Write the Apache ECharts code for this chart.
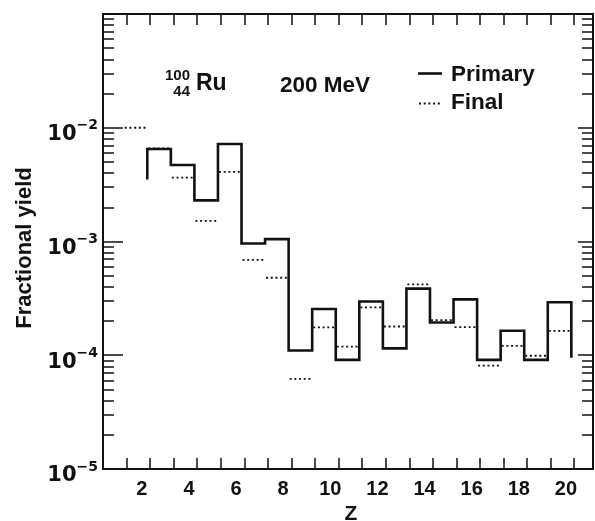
<!DOCTYPE html>
<html>
<head>
<meta charset="utf-8">
<script src="https://cdn.jsdelivr.net/npm/echarts@6/dist/echarts.min.js"></script>
<style>
  html, body { margin: 0; padding: 0; background: #fff; }
  #chart { width: 595px; height: 521px; }
</style>
</head>
<body>
<div id="chart"></div>
<script>
// Fragment charge number Z
const zNumbers = [2, 3, 4, 5, 6, 7, 8, 9, 10, 11, 12, 13, 14, 15, 16, 17, 18, 19, 20];
// Primary (pre-evaporation) fractional yields; no primary entry for Z = 2
const primaryYield = [null, 6.5e-3, 4.7e-3, 2.3e-3, 7.2e-3, 9.6e-4, 1.05e-3, 1.1e-4, 2.55e-4, 9.1e-5,
  2.97e-4, 1.15e-4, 3.85e-4, 1.94e-4, 3.1e-4, 9.1e-5, 1.64e-4, 9.1e-5, 2.92e-4];
// Final fractional yields
const finalYield = [1.0e-2, 6.6e-3, 3.65e-3, 1.52e-3, 4.1e-3, 6.9e-4, 4.8e-4, 6.2e-5, 1.76e-4, 1.19e-4,
  2.64e-4, 1.79e-4, 4.2e-4, 2.04e-4, 1.77e-4, 8.1e-5, 1.21e-4, 9.9e-5, 1.64e-4];
// Ends of the outer edges of the primary histogram
const primaryLeadIn = 3.5e-3;
const primaryTail = 9.5e-5;

// Axis ticks and labels
const zTickValues = [1.5, 2.5, 3.5, 4.5, 5.5, 6.5, 7.5, 8.5, 9.5, 10.5, 11.5, 12.5, 13.5, 14.5, 15.5,
  16.5, 17.5, 18.5, 19.5, 20.5];
const zTickLabels = [2, 4, 6, 8, 10, 12, 14, 16, 18, 20];
const yLabelExponents = [-5, -4, -3, -2];
const yMinorMantissas = [2, 3, 4, 5, 6, 7, 8, 9];
const yDecades = [-5, -4, -3, -2];

// Histogram bin extent relative to Z
const BIN_LO = -0.62, BIN_HI = 0.38;

const FONT = "'Liberation Sans', Arial, Helvetica, sans-serif";
const WIDE_FONT = "'DejaVu Sans', 'Liberation Sans', sans-serif";
const INK = '#111';

// minor tick positions in log10 units
const minorTickExps = [];
yDecades.forEach(d => yMinorMantissas.forEach(m => minorTickExps.push(d + Math.log10(m))));

// primary histogram as a connected step outline
const primaryPath = [];
let firstIdx = primaryYield.findIndex(v => v != null);
let lastIdx = -1;
primaryPath.push([zNumbers[firstIdx] + BIN_LO, primaryLeadIn]);
zNumbers.forEach((z, i) => {
  const v = primaryYield[i];
  if (v == null) return;
  primaryPath.push([z + BIN_LO, v], [z + BIN_HI, v]);
  lastIdx = i;
});
primaryPath.push([zNumbers[lastIdx] + BIN_HI, primaryTail]);

const finalData = zNumbers.map((z, i) => [z, finalYield[i]]);

const chart = echarts.init(document.getElementById('chart'), null, { renderer: 'canvas' });

const xCommon = {
  type: 'value', min: 0.5, max: 21.3,
  axisLine: { show: true, lineStyle: { color: INK, width: 2 } },
  axisTick: { show: true, inside: true, length: 11, customValues: zTickValues, lineStyle: { color: INK, width: 1.5 } },
  splitLine: { show: false }
};

const yMajorLabel = (val) => {
  const e = Math.round(Math.log10(val));
  if (yLabelExponents.indexOf(e) < 0) return '';
  return '{b|10}{e|\u2212' + (-e) + '}';
};

const option = {
  backgroundColor: '#fff',
  animation: false,
  grid: { left: 103, right: 2, top: 14, bottom: 52, containLabel: false, outerBoundsMode: 'none' },
  xAxis: [
    Object.assign({}, xCommon, {
      position: 'bottom',
      name: 'Z', nameLocation: 'middle', nameGap: 33,
      nameTextStyle: { fontFamily: FONT, fontWeight: 'bold', fontSize: 21, color: INK, padding: [0, 0, 0, 6] },
      axisLabel: { show: true, customValues: zTickLabels, margin: 10, padding: [0, 0, 0, 7],
        fontFamily: FONT, fontWeight: 'bold', fontSize: 20, color: INK }
    }),
    Object.assign({}, xCommon, { position: 'top', axisLabel: { show: false } })
  ],
  yAxis: [
    {
      type: 'log', logBase: 10, min: 1e-5, max: 1e-1, position: 'left',
      name: 'Fractional yield', nameLocation: 'middle', nameGap: 67, nameRotate: 90,
      nameTextStyle: { fontFamily: FONT, fontWeight: 'bold', fontSize: 22, color: INK, padding: [0, 13, 0, 0] },
      axisLine: { show: true, lineStyle: { color: INK, width: 2 } },
      axisTick: { show: true, inside: true, length: 20, lineStyle: { color: INK, width: 1.5 } },
      splitLine: { show: false },
      axisLabel: {
        formatter: yMajorLabel, margin: 5, color: INK,
        rich: {
          b: { fontFamily: WIDE_FONT, fontWeight: 'bold', fontSize: 21, color: INK, lineHeight: 22, padding: [14, 0, 0, 0] },
          e: { fontFamily: WIDE_FONT, fontWeight: 'bold', fontSize: 14, color: INK, lineHeight: 16, padding: [0, 0, 4, 0] }
        }
      }
    },
    {
      type: 'value', min: -5, max: -1, position: 'left',
      axisLine: { show: false }, axisLabel: { show: false }, splitLine: { show: false },
      axisTick: { show: true, inside: true, length: 11, customValues: minorTickExps, lineStyle: { color: INK, width: 1.5 } }
    },
    {
      type: 'log', logBase: 10, min: 1e-5, max: 1e-1, position: 'right',
      axisLine: { show: true, lineStyle: { color: INK, width: 2 } },
      axisTick: { show: true, inside: true, length: 15, lineStyle: { color: INK, width: 1.5 } },
      axisLabel: { show: false }, splitLine: { show: false }
    },
    {
      type: 'value', min: -5, max: -1, position: 'right',
      axisLine: { show: false }, axisLabel: { show: false }, splitLine: { show: false },
      axisTick: { show: true, inside: true, length: 11, customValues: minorTickExps, lineStyle: { color: INK, width: 1.5 } }
    }
  ],
  series: [
    {
      name: 'Primary', type: 'line', xAxisIndex: 0, yAxisIndex: 0,
      data: primaryPath, symbol: 'none', silent: true,
      lineStyle: { color: INK, width: 2.6, join: 'miter', cap: 'butt' }
    },
    {
      name: 'Final', type: 'custom', xAxisIndex: 0, yAxisIndex: 0,
      data: finalData, silent: true,
      renderItem: function (params, api) {
        const z = api.value(0), v = api.value(1);
        const p1 = api.coord([z + BIN_LO, v]);
        const p2 = api.coord([z + BIN_HI, v]);
        return {
          type: 'line',
          shape: { x1: p1[0] + 1, y1: p1[1], x2: p2[0] - 1, y2: p2[1] },
          style: { stroke: INK, lineWidth: 1.8, lineDash: [2, 2.7] }
        };
      }
    }
  ],
  graphic: [
    { type: 'text', x: 190, y: 76, style: { text: '100', fontFamily: FONT, fontWeight: 'bold', fontSize: 15, fill: INK, align: 'right', verticalAlign: 'middle' } },
    { type: 'text', x: 190, y: 92, style: { text: '44', fontFamily: FONT, fontWeight: 'bold', fontSize: 15, fill: INK, align: 'right', verticalAlign: 'middle' } },
    { type: 'text', x: 196, y: 84, style: { text: 'Ru', fontFamily: FONT, fontWeight: 'bold', fontSize: 23, fill: INK, align: 'left', verticalAlign: 'middle' } },
    { type: 'text', x: 280, y: 86, style: { text: '200 MeV', fontFamily: FONT, fontWeight: 'bold', fontSize: 22.5, fill: INK, align: 'left', verticalAlign: 'middle' } },
    { type: 'line', shape: { x1: 418, y1: 73.5, x2: 442, y2: 73.5 }, style: { stroke: INK, lineWidth: 2.6 } },
    { type: 'text', x: 451, y: 74.5, style: { text: 'Primary', fontFamily: FONT, fontWeight: 'bold', fontSize: 22.5, fill: INK, align: 'left', verticalAlign: 'middle' } },
    { type: 'line', shape: { x1: 419, y1: 103.5, x2: 442, y2: 103.5 }, style: { stroke: INK, lineWidth: 1.8, lineDash: [2, 2.7] } },
    { type: 'text', x: 451, y: 102.5, style: { text: 'Final', fontFamily: FONT, fontWeight: 'bold', fontSize: 22.5, fill: INK, align: 'left', verticalAlign: 'middle' } }
  ]
};

chart.setOption(option);
</script>
</body>
</html>
